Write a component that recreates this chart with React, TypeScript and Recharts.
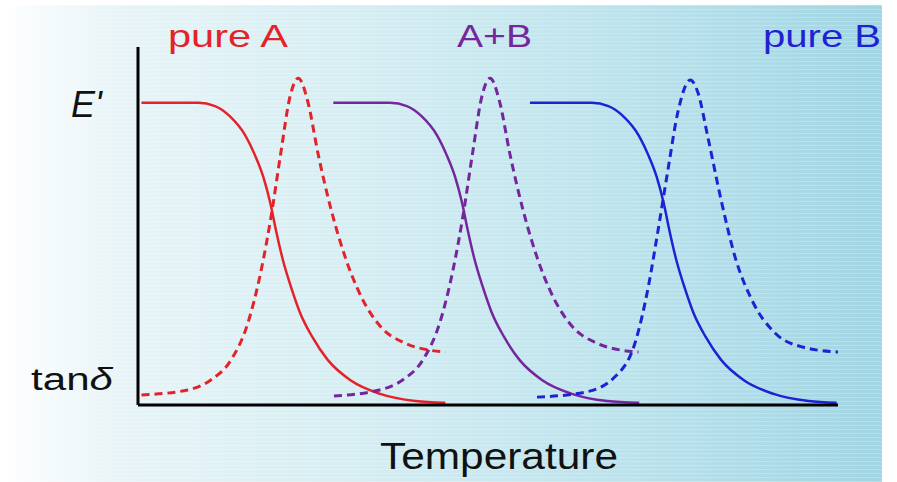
import { LineChart, Line, XAxis, YAxis } from "recharts";

// x = temperature (arbitrary units 0-100), y = modulus / tan delta (0-100)
const redModulus = [
  { x: 0.5, y: 84.4 }, { x: 8.6, y: 84.4 }, { x: 11.0, y: 83.5 }, { x: 13.1, y: 80.7 },
  { x: 15.3, y: 75.4 }, { x: 16.7, y: 69.8 }, { x: 17.9, y: 63.7 }, { x: 18.9, y: 56.4 },
  { x: 19.7, y: 48.9 }, { x: 20.7, y: 40.5 }, { x: 21.9, y: 32.7 }, { x: 23.1, y: 26.0 },
  { x: 24.9, y: 19.0 }, { x: 27.1, y: 12.6 }, { x: 30.3, y: 7.0 }, { x: 34.6, y: 3.1 },
  { x: 39.6, y: 1.1 }, { x: 43.9, y: 0.6 },
];
const redTanDelta = [
  { x: 0.5, y: 2.8 }, { x: 7.1, y: 4.2 }, { x: 10.4, y: 7.0 }, { x: 13.3, y: 12.6 },
  { x: 15.7, y: 22.9 }, { x: 17.6, y: 37.7 }, { x: 19.0, y: 52.5 }, { x: 20.4, y: 70.4 },
  { x: 21.7, y: 86.0 }, { x: 22.9, y: 91.3 }, { x: 24.3, y: 84.4 }, { x: 25.7, y: 70.4 },
  { x: 27.6, y: 54.5 }, { x: 29.6, y: 41.3 }, { x: 31.9, y: 30.2 }, { x: 34.7, y: 21.8 },
  { x: 38.1, y: 17.3 }, { x: 41.4, y: 15.4 }, { x: 43.9, y: 14.8 },
];
const purpleModulus = [
  { x: 27.9, y: 84.4 }, { x: 36.0, y: 84.4 }, { x: 38.4, y: 83.5 }, { x: 40.5, y: 80.7 },
  { x: 42.7, y: 75.4 }, { x: 44.1, y: 69.8 }, { x: 45.3, y: 63.7 }, { x: 46.3, y: 56.4 },
  { x: 47.1, y: 48.9 }, { x: 48.1, y: 40.5 }, { x: 49.3, y: 32.7 }, { x: 50.5, y: 26.0 },
  { x: 52.3, y: 19.0 }, { x: 54.5, y: 12.6 }, { x: 57.7, y: 7.0 }, { x: 62.0, y: 3.1 },
  { x: 67.0, y: 1.1 }, { x: 71.6, y: 0.6 },
];
const purpleTanDelta = [
  { x: 28.0, y: 2.5 }, { x: 34.5, y: 4.2 }, { x: 37.8, y: 7.0 }, { x: 40.7, y: 12.6 },
  { x: 43.1, y: 22.9 }, { x: 45.0, y: 37.7 }, { x: 46.4, y: 52.5 }, { x: 47.8, y: 70.4 },
  { x: 49.1, y: 86.0 }, { x: 50.3, y: 91.3 }, { x: 51.7, y: 84.4 }, { x: 53.1, y: 70.4 },
  { x: 55.0, y: 54.5 }, { x: 57.0, y: 41.3 }, { x: 59.3, y: 30.2 }, { x: 62.1, y: 21.8 },
  { x: 65.5, y: 17.3 }, { x: 68.8, y: 15.4 }, { x: 71.5, y: 14.8 },
];
const blueModulus = [
  { x: 56.0, y: 84.4 }, { x: 64.8, y: 84.4 }, { x: 67.2, y: 83.5 }, { x: 69.3, y: 80.7 },
  { x: 71.5, y: 75.4 }, { x: 72.9, y: 69.8 }, { x: 74.1, y: 63.7 }, { x: 75.1, y: 56.4 },
  { x: 75.9, y: 48.9 }, { x: 76.9, y: 40.5 }, { x: 78.1, y: 32.7 }, { x: 79.3, y: 26.0 },
  { x: 81.1, y: 19.0 }, { x: 83.3, y: 12.6 }, { x: 86.5, y: 7.0 }, { x: 90.8, y: 3.1 },
  { x: 95.8, y: 1.1 }, { x: 99.8, y: 0.6 },
];
const blueTanDelta = [
  { x: 57.0, y: 2.2 }, { x: 63.9, y: 3.6 }, { x: 68.1, y: 7.8 }, { x: 71.0, y: 17.3 },
  { x: 72.9, y: 33.0 }, { x: 74.3, y: 48.9 }, { x: 75.7, y: 65.6 }, { x: 77.1, y: 81.6 },
  { x: 78.9, y: 90.8 }, { x: 80.0, y: 87.2 }, { x: 81.4, y: 74.9 }, { x: 83.4, y: 56.4 },
  { x: 85.3, y: 41.3 }, { x: 87.7, y: 29.3 }, { x: 91.0, y: 20.1 }, { x: 94.9, y: 16.2 },
  { x: 100, y: 14.8 },
];

const RED = "#e4222a";
const PURPLE = "#74279c";
const BLUE = "#1f22d2";
const FONT = "'Liberation Sans', Arial, sans-serif";

export default function App() {
  return (
    <div style={{ position: "absolute", left: 0, top: 0, width: 897, height: 482, background: "#fff", overflow: "hidden" }}>
      <div
        style={{
          position: "absolute",
          left: 15,
          top: 5,
          width: 867,
          height: 477,
          background: "linear-gradient(to right, #fbfdfe 0%, #e8f4f7 12%, #d6edf2 40%, #bde2eb 70%, #a1d5e3 100%)",
        }}
      />
      <div
        style={{
          position: "absolute",
          left: 15,
          top: 5,
          width: 867,
          height: 477,
          background: "repeating-linear-gradient(to bottom, rgba(255,255,255,0.22) 0px, rgba(255,255,255,0.22) 1px, rgba(255,255,255,0) 1px, rgba(255,255,255,0) 4px)",
        }}
      />
      <div style={{ position: "absolute", left: 0, top: 0 }}>
        <LineChart width={897} height={482} margin={{ top: 47, right: 59, bottom: 47, left: 78 }}>
          <XAxis
            type="number"
            dataKey="x"
            domain={[0, 100]}
            allowDataOverflow
            tick={false}
            tickLine={false}
            axisLine={{ stroke: "#000", strokeWidth: 3 }}
            height={30}
          />
          <YAxis
            type="number"
            dataKey="y"
            domain={[0, 100]}
            allowDataOverflow
            tick={false}
            tickLine={false}
            axisLine={{ stroke: "#000", strokeWidth: 3 }}
            width={60}
          />
          <Line data={redModulus} dataKey="y" type="monotone" stroke={RED} strokeWidth={2.5} dot={false} isAnimationActive={false} />
          <Line data={redTanDelta} dataKey="y" type="monotone" stroke={RED} strokeWidth={3} strokeDasharray="8 5" dot={false} isAnimationActive={false} />
          <Line data={purpleModulus} dataKey="y" type="monotone" stroke={PURPLE} strokeWidth={2.5} dot={false} isAnimationActive={false} />
          <Line data={purpleTanDelta} dataKey="y" type="monotone" stroke={PURPLE} strokeWidth={3} strokeDasharray="8 5" dot={false} isAnimationActive={false} />
          <Line data={blueModulus} dataKey="y" type="monotone" stroke={BLUE} strokeWidth={2.5} dot={false} isAnimationActive={false} />
          <Line data={blueTanDelta} dataKey="y" type="monotone" stroke={BLUE} strokeWidth={3} strokeDasharray="8 5" dot={false} isAnimationActive={false} />
        </LineChart>
      </div>
      <svg width={897} height={482} style={{ position: "absolute", left: 0, top: 0, pointerEvents: "none" }}>
        <g fontFamily={FONT}>
          <text x={168} y={47} fontSize={32} fill={RED} textLength={120} lengthAdjust="spacingAndGlyphs">pure A</text>
          <text x={457} y={47} fontSize={31} fill={PURPLE} textLength={75} lengthAdjust="spacingAndGlyphs">A+B</text>
          <text x={763} y={47} fontSize={32} fill={BLUE} textLength={118} lengthAdjust="spacingAndGlyphs">pure B</text>
          <text x={71} y={117} fontSize={36} fontStyle="italic" fill="#111">E'</text>
          <text x={31} y={390} fontSize={31} fill="#111" textLength={82} lengthAdjust="spacingAndGlyphs">
            tan<tspan fontStyle="italic">δ</tspan>
          </text>
          <text x={380} y={469} fontSize={37} fill="#111" textLength={238} lengthAdjust="spacingAndGlyphs">Temperature</text>
        </g>
      </svg>
    </div>
  );
}
